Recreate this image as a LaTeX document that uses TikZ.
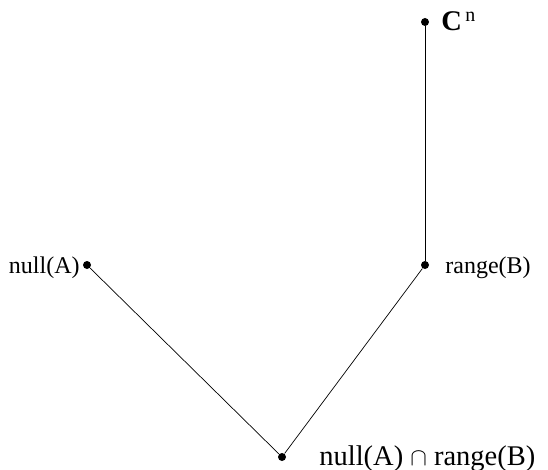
\documentclass[tikz,border=0pt]{standalone}
\usepackage{fontspec}
\usepackage{amsmath}
\usepackage{amssymb}
\setmainfont{Liberation Serif}
\begin{document}
\begin{tikzpicture}[
  x=1pt,y=-1pt,  line width=0.7pt,  dot/.style={circle,fill,inner sep=0pt,minimum size=8pt},  lbl/.style={inner sep=0pt,font=\fontsize{24}{28}\selectfont},  biglbl/.style={inner sep=0pt,font=\fontsize{28.5}{32}\selectfont}
]
  \useasboundingbox (0,0) rectangle (548,470);
  \node[dot] (cn) at (425,22) {};
  \node[dot] (rb) at (425,265) {};
  \node[dot] (na) at (87,265) {};
  \node[dot] (cap) at (282,457) {};
  \node[biglbl,anchor=base west] (tcn) at (441,31) {$\mathbf{C}^{\,\mathrm{n}}$};
  \node[lbl,anchor=base west] (trb) at (445,273) {range(B)};
  \node[lbl,anchor=base east] (tna) at (80,273) {null(A)};
  \node[biglbl,anchor=base west] (tcap) at (319,465) {null(A) $\cap$ range(B)};
  \draw (cn) -- (rb);
  \draw (na) -- (cap);
  \draw (rb) -- (cap);
\end{tikzpicture}
\end{document}
